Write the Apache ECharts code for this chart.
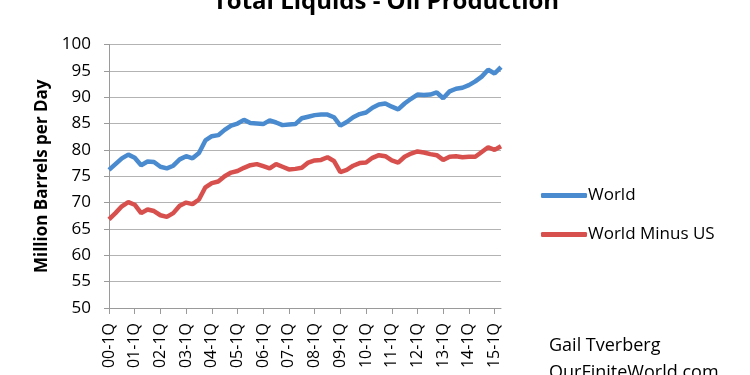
<!DOCTYPE html>
<html>
<head>
<meta charset="utf-8">
<script src="https://cdn.jsdelivr.net/npm/echarts@6/dist/echarts.min.js"></script>
<style>html,body{margin:0;padding:0;background:#fff}#c{width:750px;height:375px}</style>
</head>
<body>
<div id="c"></div>
<script>
var quarters = [];
var years = ["00","01","02","03","04","05","06","07","08","09","10","11","12","13","14","15"];
years.forEach(function(y){ ["1Q","2Q","3Q","4Q"].forEach(function(q){ quarters.push(y + "-" + q); }); });
quarters = quarters.slice(0, 62);

var world = [76.2,77.3,78.4,79.1,78.5,77.1,77.8,77.7,76.8,76.5,77.0,78.2,78.8,78.4,79.4,81.8,
  82.6,82.8,83.8,84.6,85.0,85.7,85.1,85.0,84.9,85.6,85.2,84.7,84.8,84.9,86.0,86.3,
  86.6,86.7,86.7,86.2,84.6,85.3,86.2,86.8,87.1,88.0,88.6,88.8,88.2,87.7,88.8,89.7,
  90.5,90.4,90.5,90.9,89.8,91.1,91.6,91.8,92.3,93.0,93.9,95.2,94.5,95.7];
var worldMinusUS = [66.8,68.0,69.3,70.1,69.6,68.0,68.7,68.4,67.6,67.3,68.0,69.4,70.0,69.7,70.6,72.9,
  73.7,74.0,75.0,75.7,76.0,76.6,77.1,77.3,76.9,76.5,77.3,76.8,76.3,76.4,76.6,77.6,
  78.0,78.1,78.6,77.9,75.8,76.2,77.0,77.5,77.6,78.5,79.0,78.8,78.0,77.6,78.7,79.3,
  79.7,79.5,79.2,79.0,78.1,78.7,78.8,78.6,78.7,78.7,79.6,80.5,80.0,80.7];

var FONT = "'Open Sans', 'Liberation Sans', sans-serif";
var chart = echarts.init(document.getElementById('c'));
chart.setOption({
  animation: false,
  backgroundColor: '#fff',
  title: {
    text: 'Total Liquids - Oil Production',
    left: 381, textAlign: 'center', top: -15,
    textStyle: {fontFamily: FONT, fontWeight: 'bold', fontSize: 24, color: '#000'}
  },
  legend: {
    orient: 'vertical', left: 536, top: 182, itemGap: 22,
    itemWidth: 46, itemHeight: 5, icon: 'roundRect',
    textStyle: {fontFamily: FONT, fontSize: 17, color: '#000', padding: [0,0,0,-4]},
    data: ['World', 'World Minus US']
  },
  grid: {left: 109, right: 249, top: 44.5, bottom: 67},
  xAxis: {
    type: 'category', data: quarters, boundaryGap: false,
    axisLine: {lineStyle: {color: '#9a9a9a', width: 1}},
    axisTick: {interval: 3, length: 6, lineStyle: {color: '#9a9a9a'}},
    axisLabel: {interval: 3, rotate: 90, margin: 15, fontFamily: FONT, fontSize: 16, color: '#000'}
  },
  yAxis: {
    type: 'value', min: 50, max: 100, interval: 5,
    name: 'Million Barrels per Day', nameLocation: 'middle', nameGap: 58,
    nameTextStyle: {fontFamily: FONT, fontWeight: 'bold', fontSize: 17, color: '#000'},
    axisLine: {show: true, lineStyle: {color: '#9a9a9a'}},
    axisTick: {show: true, length: 5, lineStyle: {color: '#9a9a9a'}},
    axisLabel: {margin: 18, fontFamily: FONT, fontSize: 17, color: '#000'},
    splitLine: {lineStyle: {color: '#b3b3b3', width: 1}}
  },
  graphic: [
    {type: 'text', left: 549, top: 337, style: {text: 'Gail Tverberg', font: "18px 'Open Sans', sans-serif", fill: '#000'}},
    {type: 'text', left: 549, top: 364, style: {text: 'OurFiniteWorld.com', font: "18px 'Open Sans', sans-serif", fill: '#000'}}
  ],
  series: [
    {name: 'World', type: 'line', data: world, showSymbol: false, symbol: 'none',
     lineStyle: {color: '#4a8bd0', width: 4.5}, itemStyle: {color: '#4a8bd0'}},
    {name: 'World Minus US', type: 'line', data: worldMinusUS, showSymbol: false, symbol: 'none',
     lineStyle: {color: '#d8504d', width: 4.5}, itemStyle: {color: '#d8504d'}}
  ]
});
</script>
</body>
</html>
